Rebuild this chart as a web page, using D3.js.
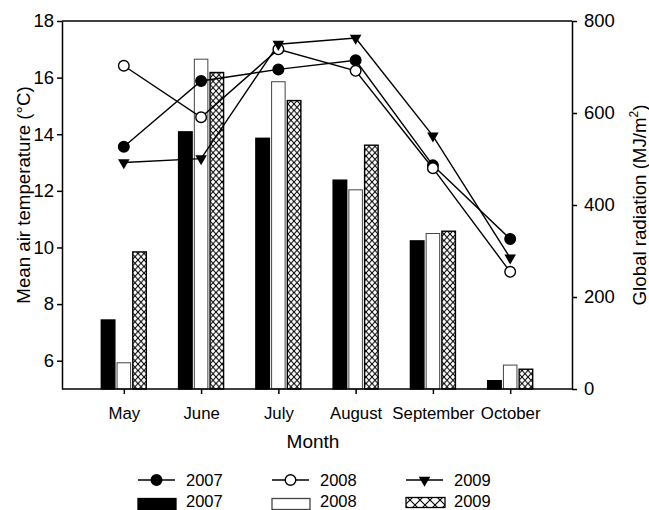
<!DOCTYPE html>
<html>
<head>
<meta charset="utf-8">
<script src="https://cdn.jsdelivr.net/npm/d3@7"></script>
<style>
  body { margin: 0; background: #fff; }
  svg { display: block; }
</style>
</head>
<body>
<div class="container"></div>
<script>
const months = ["May", "June", "July", "August", "September", "October"];
const years = ["2007", "2008", "2009"];
// mean air temperature (°C), left axis
const temp2007 = [13.56, 15.88, 16.29, 16.61, 12.9, 10.3];
const temp2008 = [16.42, 14.6, 17.0, 16.24, 12.8, 9.14];
const temp2009 = [13.0, 13.14, 17.18, 17.4, 13.94, 9.63];
// global radiation (MJ/m2), right axis
const rad2007 = [150, 559, 545, 454, 322, 18];
const rad2008 = [57, 717, 668, 433, 338, 52];
const rad2009 = [298, 688, 627, 530, 343, 43];
const tempTicks = [6, 8, 10, 12, 14, 16, 18];
const radTicks = [0, 200, 400, 600, 800];

const width = 649;
const height = 510;
const plot = { left: 62, right: 572, top: 21, bottom: 389 };
const font = "'Liberation Sans', Arial, sans-serif";

let svg = d3
  .select(".container")
  .append("svg")
  .attr("width", width)
  .attr("height", height)
  .attr("font-family", font);

// hatch patterns (bars and the legend swatch use different sizes)
let defs = svg.append("defs");
const addHatch = (id, w, h) => {
  let p = defs
    .append("pattern")
    .attr("id", id)
    .attr("patternUnits", "userSpaceOnUse")
    .attr("width", w)
    .attr("height", h);
  p.append("rect").attr("width", w).attr("height", h).attr("fill", "#fff");
  p.append("path")
    .attr("d", `M0,0L${w},${h}M${w},0L0,${h}`)
    .attr("stroke", "#000")
    .attr("stroke-width", 1.1)
    .attr("fill", "none");
};
addHatch("hatch", 6, 6.5);
addHatch("hatchLegend", 10, 10);

let x = d3
  .scalePoint()
  .domain(months)
  .range([plot.left, plot.right])
  .padding(0.8);
let xInner = d3
  .scaleBand()
  .domain(years)
  .range([-22.5, 22.5])
  .paddingInner(0.14);
let yT = d3.scaleLinear().domain([5, 18]).range([plot.bottom, plot.top]);
let yR = d3.scaleLinear().domain([0, 800]).range([plot.bottom, plot.top]);

const barStyle = {
  "2007": { fill: "#000", stroke: "#000" },
  "2008": { fill: "#fff", stroke: "#444" },
  "2009": { fill: "url(#hatch)", stroke: "#000" }
};

// bars
let radSeries = [rad2007, rad2008, rad2009];
let barData = [];
years.forEach((yr, j) => {
  months.forEach((m, i) => {
    barData.push({ year: yr, month: m, value: radSeries[j][i] });
  });
});
svg
  .append("g")
  .selectAll("rect")
  .data(barData)
  .join("rect")
  .attr("x", d => x(d.month) + xInner(d.year))
  .attr("y", d => yR(d.value))
  .attr("width", xInner.bandwidth())
  .attr("height", d => yR(0) - yR(d.value))
  .attr("fill", d => barStyle[d.year].fill)
  .attr("stroke", d => barStyle[d.year].stroke)
  .attr("stroke-width", d => (d.year === "2008" ? 1 : 1.4));

// frame + axes
svg
  .append("line")
  .attr("x1", plot.left)
  .attr("x2", plot.right)
  .attr("y1", plot.top)
  .attr("y2", plot.top)
  .attr("stroke", "#000")
  .attr("stroke-width", 1.5);

let axL = svg
  .append("g")
  .attr("transform", `translate(${plot.left},0)`)
  .call(d3.axisLeft(yT).tickValues(tempTicks).tickSize(5).tickSizeOuter(0).tickPadding(3));
let axR = svg
  .append("g")
  .attr("transform", `translate(${plot.right},0)`)
  .call(d3.axisRight(yR).tickValues(radTicks).tickSize(5).tickSizeOuter(0).tickPadding(7));
let axB = svg
  .append("g")
  .attr("transform", `translate(0,${plot.bottom})`)
  .call(d3.axisBottom(x).tickSize(5).tickSizeOuter(0).tickPadding(13));
axB.select(".domain").attr("d", `M${plot.left},0H${plot.right}`);

[axL, axR, axB].forEach(ax => {
  ax.attr("font-family", font);
  ax.selectAll("path, line").attr("stroke", "#000").attr("stroke-width", 1.5);
  ax.selectAll("text").attr("fill", "#000");
});
axL.attr("font-size", 18.5);
axR.attr("font-size", 18.5);
axB.attr("font-size", 16.8);

// axis titles
svg
  .append("text")
  .attr("transform", "translate(30,195) rotate(-90)")
  .attr("text-anchor", "middle")
  .attr("font-size", 18.7)
  .text("Mean air temperature (°C)");
let rt = svg
  .append("text")
  .attr("transform", "translate(646,205) rotate(-90)")
  .attr("text-anchor", "middle")
  .attr("font-size", 18.7);
rt.append("tspan").text("Global radiation (MJ/m");
rt.append("tspan").attr("font-size", 12).attr("dy", -8).text("2");
rt.append("tspan").attr("dy", 8).text(")");
svg
  .append("text")
  .attr("x", 313)
  .attr("y", 448)
  .attr("text-anchor", "middle")
  .attr("font-size", 19)
  .text("Month");

// temperature lines
let tempSeries = [temp2007, temp2008, temp2009];
let line = d3
  .line()
  .x((d, i) => x(months[i]))
  .y(d => yT(d));
svg
  .append("g")
  .selectAll("path")
  .data(tempSeries)
  .join("path")
  .attr("d", line)
  .attr("fill", "none")
  .attr("stroke", "#000")
  .attr("stroke-width", 1.4);

const tri = d3.symbol().type(d3.symbolTriangle).size(58)();
const drawMarker = (g, j) => {
  if (j === 2) {
    g.append("path")
      .attr("d", tri)
      .attr("transform", "rotate(180)")
      .attr("fill", "#000");
  } else {
    g.append("circle")
      .attr("r", 5.3)
      .attr("fill", j === 0 ? "#000" : "#fff")
      .attr("stroke", "#000")
      .attr("stroke-width", 1.4);
  }
};
tempSeries.forEach((s, j) => {
  svg
    .append("g")
    .selectAll("g")
    .data(s)
    .join("g")
    .attr("transform", (d, i) => `translate(${x(months[i])},${yT(d)})`)
    .each(function() {
      drawMarker(d3.select(this), j);
    });
});

// legend
const legendX = [138, 272, 406];
let legend = svg.append("g").attr("font-size", 16.5);
years.forEach((yr, j) => {
  let lx = legendX[j];
  legend
    .append("line")
    .attr("x1", lx)
    .attr("x2", lx + 37)
    .attr("y1", 480)
    .attr("y2", 480)
    .attr("stroke", "#000")
    .attr("stroke-width", 1.4);
  drawMarker(legend.append("g").attr("transform", `translate(${lx + 18.5},480)`), j);
  legend
    .append("text")
    .attr("x", lx + 48)
    .attr("y", 486)
    .text(yr);
  legend
    .append("rect")
    .attr("x", lx)
    .attr("y", j === 2 ? 497.5 : 498.5)
    .attr("width", j === 2 ? 39 : 38)
    .attr("height", j === 2 ? 10 : 11)
    .attr("fill", j === 2 ? "url(#hatchLegend)" : barStyle[yr].fill)
    .attr("stroke", barStyle[yr].stroke)
    .attr("stroke-width", 1.3);
  legend
    .append("text")
    .attr("x", lx + 48)
    .attr("y", 506.5)
    .text(yr);
});
</script>
</body>
</html>
